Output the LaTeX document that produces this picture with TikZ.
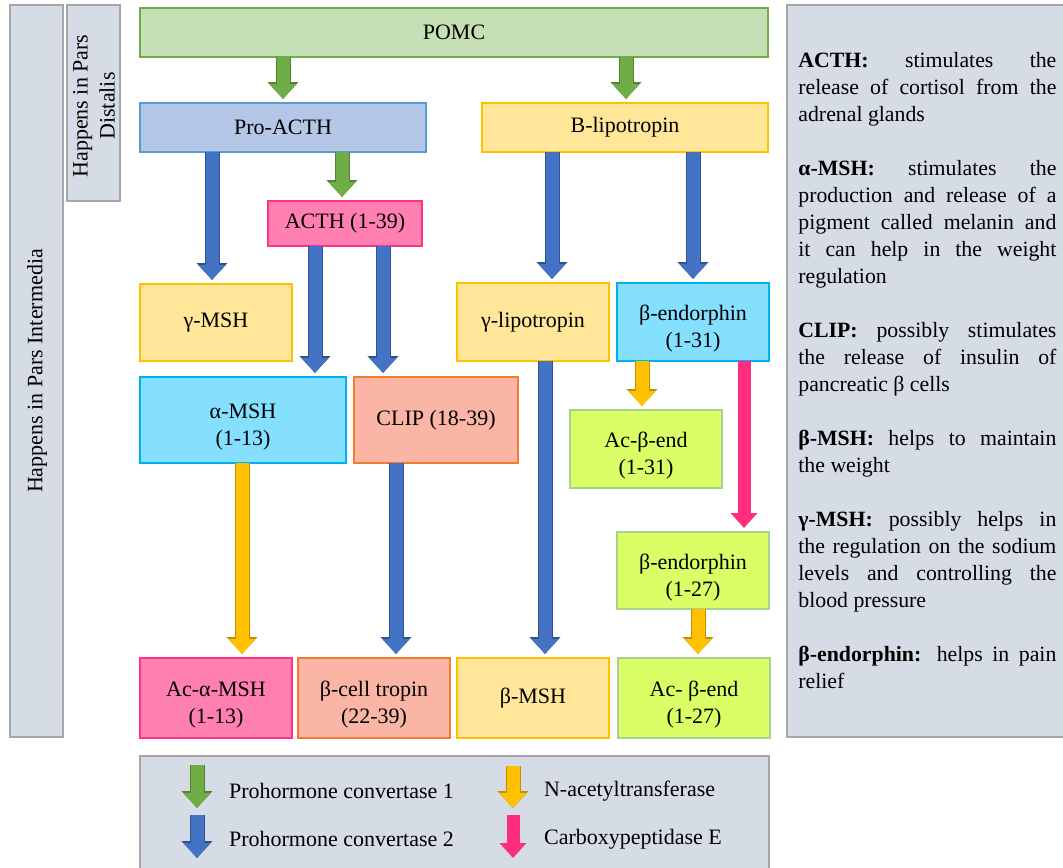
\documentclass[tikz,border=0pt]{standalone}
\usepackage{fontspec}
\setmainfont{Liberation Serif}
\usetikzlibrary{arrows.meta}

\definecolor{pomcfill}{HTML}{C5E0B4}
\definecolor{pomcline}{HTML}{70AD47}
\definecolor{blufill}{HTML}{B4C7E7}
\definecolor{bluline}{HTML}{5B9BD5}
\definecolor{yelfill}{HTML}{FFE699}
\definecolor{yelline}{HTML}{FFC000}
\definecolor{pnkfill}{HTML}{FF80B0}
\definecolor{pnkline}{HTML}{FF3385}
\definecolor{cyafill}{HTML}{85DFFF}
\definecolor{cyaline}{HTML}{00B0F0}
\definecolor{salfill}{HTML}{FAB5A5}
\definecolor{salline}{HTML}{ED7D31}
\definecolor{limfill}{HTML}{DAFF66}
\definecolor{limline}{HTML}{A9D18E}
\definecolor{grayfill}{HTML}{D6DCE5}
\definecolor{grayline}{HTML}{A6A6A6}
\definecolor{agreen}{HTML}{70AD47}
\definecolor{agreendk}{HTML}{548235}
\definecolor{ablue}{HTML}{4472C4}
\definecolor{abluedk}{HTML}{2F528F}
\definecolor{ayel}{HTML}{FFC000}
\definecolor{ayeldk}{HTML}{BF9000}
\definecolor{apink}{HTML}{FF2D7D}

% taller first line, pushes two-line labels down a little
\newcommand\tl{\rule[-0.216em]{0pt}{\dimexpr1.107em+5pt\relax}}

\tikzset{
  box/.style={draw, line width=1pt, inner sep=0pt, outer sep=0pt, align=center,
    font=\fontsize{11}{13.5}\selectfont},
  pomcbox/.style={box, fill=pomcfill, draw=pomcline},
  blubox/.style={box, fill=blufill, draw=bluline},
  yelbox/.style={box, fill=yelfill, draw=yelline},
  pnkbox/.style={box, fill=pnkfill, draw=pnkline},
  cyabox/.style={box, fill=cyafill, draw=cyaline},
  salbox/.style={box, fill=salfill, draw=salline},
  limbox/.style={box, fill=limfill, draw=limline},
  graybox/.style={draw=grayline, fill=grayfill, line width=0.6pt},
  enz/.style={line width=6.5pt, -{Triangle[width=13pt,length=7.5pt]}},
  enzline/.style={preaction={draw=#1, line width=7.5pt, -{Triangle[width=15pt,length=8.5pt]}}},
  pcone/.style={enz, draw=agreen, enzline=agreendk},
  pctwo/.style={enz, draw=ablue, enzline=abluedk},
  nat/.style={enz, draw=ayel, enzline=ayeldk},
  cpe/.style={enz, draw=apink}
}

\begin{document}
\begin{tikzpicture}[x=0.5pt, y=-0.5pt]
  \useasboundingbox (0,0) rectangle (1063,867);

  % side panels
  \draw[graybox] (10,5) rectangle (63,737);
  \node[rotate=90, font=\fontsize{11}{13.5}\selectfont] (inter) at (37,371) {Happens in Pars Intermedia};
  \draw[graybox] (67,5) rectangle (120,201);
  \node[rotate=90, align=center, font=\fontsize{11}{13.5}\selectfont] (dist) at (94,106) {Happens in Pars\\Distalis};
  \draw[graybox] (787,5) rectangle (1070,737);
  \draw[graybox] (140,756) rectangle (769,875);

  % peptides
  \node[pomcbox, minimum width=314pt, minimum height=24.5pt] (pomc) at (454,32.5) {POMC};
  \node[blubox, minimum width=143pt, minimum height=24.5pt] (proacth) at (283,127.5) {Pro-ACTH};
  \node[yelbox, minimum width=143pt, minimum height=24.5pt] (blipo) at (625,127.5) {B-lipotropin};
  \node[pnkbox, minimum width=77pt, minimum height=22.5pt] (acth) at (345,223.5) {ACTH (1-39)};
  \node[yelbox, minimum width=76pt, minimum height=38.5pt] (gmsh) at (216,322.5) {γ-MSH};
  \node[yelbox, minimum width=76pt, minimum height=39pt] (glipo) at (533,322) {γ-lipotropin};
  \node[cyabox, minimum width=76pt, minimum height=39pt] (bend31) at (693,322) {\tl β-endorphin\\(1-31)};
  \node[cyabox, minimum width=103pt, minimum height=43pt] (amsh) at (243,420) {\tl α-MSH\\(1-13)};
  \node[salbox, minimum width=82pt, minimum height=43pt] (clip) at (436,420) {CLIP (18-39)};
  \node[limbox, minimum width=76pt, minimum height=39pt] (acbend31) at (646,449) {\tl Ac-β-end\\(1-31)};
  \node[limbox, minimum width=76pt, minimum height=38.5pt] (bend27) at (693,570.5) {\tl β-endorphin\\(1-27)};
  \node[pnkbox, minimum width=76pt, minimum height=40pt] (acamsh) at (216,698) {\tl Ac-α-MSH\\(1-13)};
  \node[salbox, minimum width=76pt, minimum height=40pt] (bcell) at (374,698) {\tl β-cell tropin\\(22-39)};
  \node[yelbox, minimum width=76pt, minimum height=40pt] (bmsh) at (533,698) {β-MSH};
  \node[limbox, minimum width=76pt, minimum height=40pt] (acbend27) at (694,698) {\tl Ac- β-end\\(1-27)};

  % enzyme arrows
  \foreach \x/\a/\b/\s in {283/pomc/proacth/pcone, 626/pomc/blipo/pcone, 342/proacth/acth/pcone,
      212/proacth/gmsh/pctwo, 315/acth/amsh/pctwo, 383/acth/clip/pctwo, 552/blipo/glipo/pctwo,
      693/blipo/bend31/pctwo, 545/glipo/bmsh/pctwo, 396/clip/bcell/pctwo,
      242/amsh/acamsh/nat, 642/bend31/acbend31/nat, 698/bend27/acbend27/nat,
      744/bend31/bend27/cpe}
    \draw[\s, shorten >=2pt] (\x,0 |- \a.south) -- (\x,0 |- \b.north);

  % legend
  \draw[pcone] (197,765) -- (197,808);
  \draw[pctwo] (197,815) -- (197,858);
  \draw[nat] (513,766) -- (513,808);
  \draw[cpe] (513,815) -- (513,858);
  \node[anchor=west, font=\fontsize{11}{13.5}\selectfont] (lgone) at (222,791) {Prohormone convertase 1};
  \node[anchor=west, font=\fontsize{11}{13.5}\selectfont] (lgtwo) at (222,839) {Prohormone convertase 2};
  \node[anchor=west, font=\fontsize{11}{13.5}\selectfont] (lgnat) at (537,791) {N-acetyltransferase};
  \node[anchor=west, font=\fontsize{11}{13.5}\selectfont] (lgcpe) at (537,839) {Carboxypeptidase E};

  % functions
  \node[anchor=north west, inner sep=0pt, text width=129pt, align=justify,
    font=\fontsize{10.9}{13.5}\selectfont] (notes) at (798,52) {%
    \textbf{ACTH:} stimulates the\linebreak release of cortisol from the\linebreak adrenal glands\par\vspace{13.5pt}
    \textbf{α-MSH:} stimulates the\linebreak production and release of a\linebreak pigment called melanin and\linebreak it can help in the weight\linebreak regulation\par\vspace{13.5pt}
    \textbf{CLIP:} possibly stimulates\linebreak the release of insulin of\linebreak pancreatic β cells\par\vspace{13.5pt}
    \textbf{β-MSH:} helps to maintain\linebreak the weight\par\vspace{13.5pt}
    \textbf{γ-MSH:} possibly helps in\linebreak the regulation on the sodium\linebreak levels and controlling the\linebreak blood pressure\par\vspace{13.5pt}
    \textbf{β-endorphin:} helps in pain\linebreak relief};
\end{tikzpicture}
\end{document}
